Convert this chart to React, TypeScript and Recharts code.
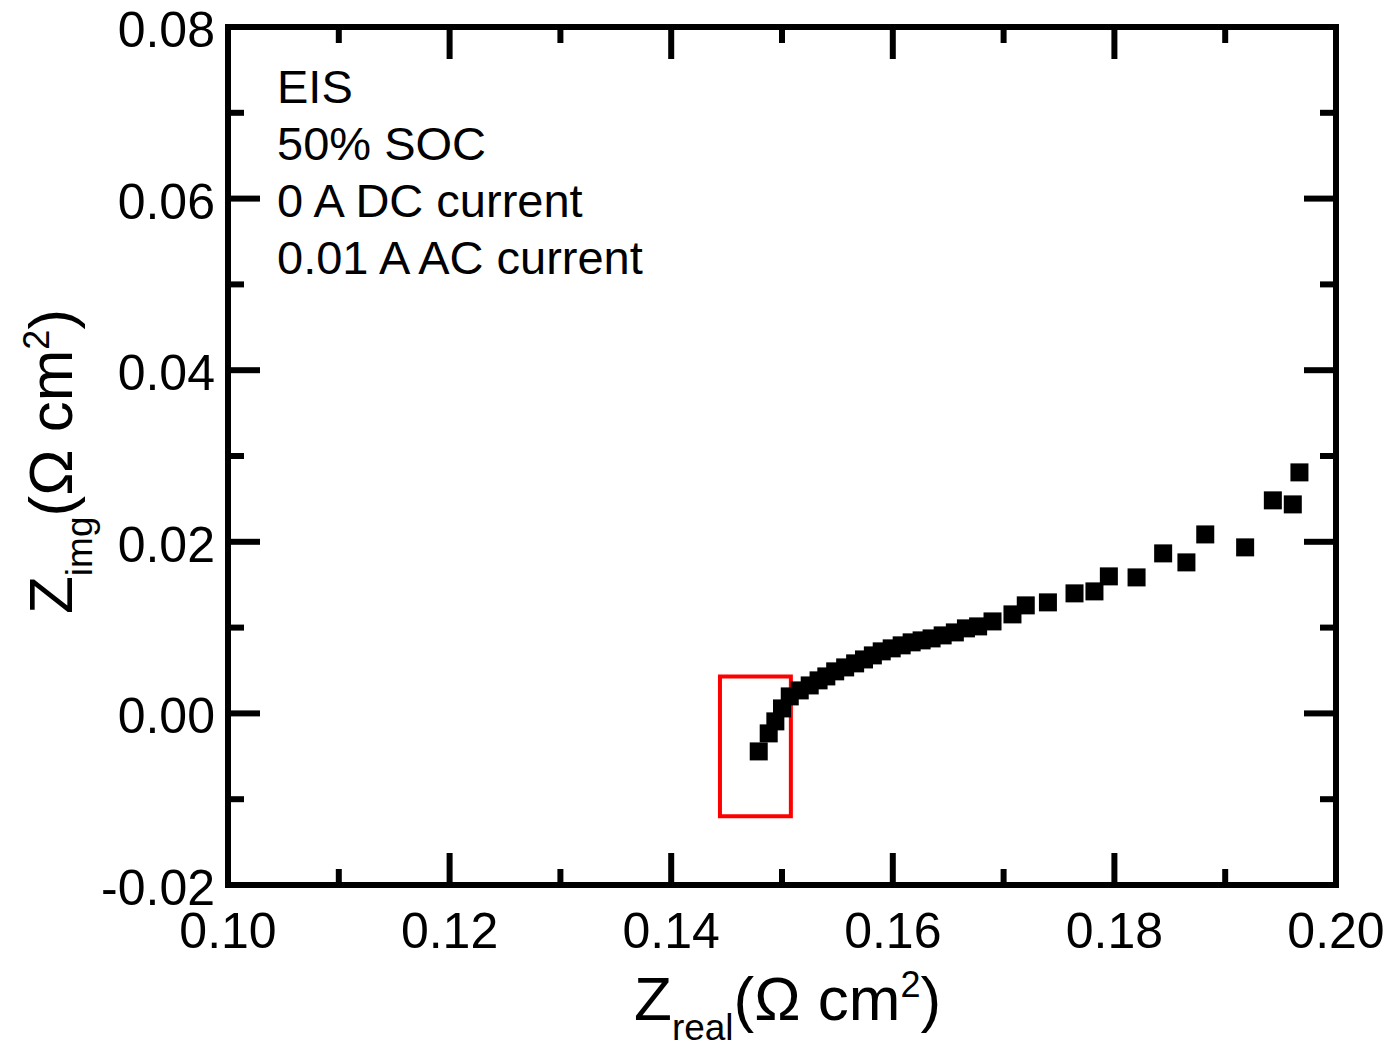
import React from 'react';
import { ScatterChart, Scatter, XAxis, YAxis, ReferenceArea } from 'recharts';

const FONT = '"Liberation Sans", Arial, Helvetica, sans-serif';

// Nyquist data
const zReal = [
    0.1479, 0.1488, 0.1494, 0.15, 0.1507, 0.1516, 0.1525, 0.1533, 0.154, 0.1548,
    0.1557, 0.1566, 0.1574, 0.1582, 0.159, 0.1599, 0.1608, 0.1617, 0.1626, 0.1635,
    0.1645, 0.1656, 0.1666, 0.1677, 0.169, 0.1708, 0.172, 0.174, 0.1764, 0.1782,
    0.1795, 0.182, 0.1844, 0.1865, 0.1882, 0.1918, 0.1943, 0.1961, 0.1967,
];
const zImg = [
    -0.00443, -0.00233, -0.00093, 0.00058, 0.00198, 0.00268, 0.00326, 0.00385, 0.00431, 0.0049,
    0.00536, 0.00583, 0.00629, 0.00676, 0.00723, 0.00758, 0.00793, 0.00828, 0.00851, 0.00874,
    0.00909, 0.00944, 0.00991, 0.01014, 0.01072, 0.01154, 0.01259, 0.01294, 0.01399, 0.01422,
    0.01597, 0.01585, 0.01865, 0.0176, 0.02086, 0.01935, 0.02483, 0.02436, 0.02809,
];

const xTicks = [0.1, 0.11, 0.12, 0.13, 0.14, 0.15, 0.16, 0.17, 0.18, 0.19, 0.2];
const yTicks = [-0.02, -0.01, 0, 0.01, 0.02, 0.03, 0.04, 0.05, 0.06, 0.07, 0.08];

const notes = ['EIS', '50% SOC', '0 A DC current', '0.01 A AC current'];

const W = 1398;
const H = 1049;
const PLOT_W = 1108;
const PLOT_H = 858;
const MAJOR = 32;
const MINOR = 16;

const isMajor = (v: number) => Math.round(v * 100) % 2 === 0;

const XTick = (props: any) => {
    const { x, y, payload } = props;
    const v = payload.value;
    const len = isMajor(v) ? MAJOR : MINOR;
    return (
        <g>
            <line x1={x} y1={y} x2={x} y2={y - len} stroke="#000" strokeWidth={6} />
            <line x1={x} y1={y - PLOT_H} x2={x} y2={y - PLOT_H + len} stroke="#000" strokeWidth={6} />
            {isMajor(v) && (
                <text x={x} y={y + 63} textAnchor="middle" fontSize={50} fontFamily={FONT} fill="#000">
                    {v.toFixed(2)}
                </text>
            )}
        </g>
    );
};

const YTick = (props: any) => {
    const { x, y, payload } = props;
    const v = payload.value;
    const len = isMajor(v) ? MAJOR : MINOR;
    return (
        <g>
            <line x1={x} y1={y} x2={x + len} y2={y} stroke="#000" strokeWidth={6} />
            <line x1={x + PLOT_W} y1={y} x2={x + PLOT_W - len} y2={y} stroke="#000" strokeWidth={6} />
            {isMajor(v) && (
                <text x={x - 13} y={y + 20} textAnchor="end" fontSize={50} fontFamily={FONT} fill="#000">
                    {v.toFixed(2)}
                </text>
            )}
        </g>
    );
};

const XTitle = () => (
    <text x={634} y={1020} textAnchor="start" fontSize={62} fontFamily={FONT} fill="#000">
        Z
        <tspan fontSize={37} dy={20}>real</tspan>
        <tspan dy={-20}>(Ω cm</tspan>
        <tspan fontSize={36} dy={-23}>2</tspan>
        <tspan dy={23}>)</tspan>
    </text>
);

const YTitle = () => (
    <text
        x={72}
        y={614}
        transform="rotate(-90, 72, 614)"
        textAnchor="start"
        fontSize={62}
        fontFamily={FONT}
        fill="#000"
    >
        Z
        <tspan fontSize={37} dy={20}>img</tspan>
        <tspan dy={-20}>(Ω cm</tspan>
        <tspan fontSize={36} dy={-23}>2</tspan>
        <tspan dy={23}>)</tspan>
    </text>
);

const Square = (props: any) => {
    const { cx, cy } = props;
    return <rect x={cx - 9} y={cy - 9} width={18} height={18} fill="#000" />;
};

export default function App() {
    const data = zReal.map((x, i) => ({ x, y: zImg[i] }));

    return (
        <div style={{ position: 'relative', width: W, height: H, margin: -8, background: '#fff' }}>
            <ScatterChart width={W} height={H} margin={{ top: 27, right: 62, bottom: 24, left: 28 }}>
                <XAxis
                    type="number"
                    dataKey="x"
                    domain={[0.1, 0.2]}
                    ticks={xTicks}
                    interval={0}
                    axisLine={false}
                    tickLine={false}
                    tickSize={0}
                    tickMargin={0}
                    height={140}
                    tick={(p: any) => <XTick {...p} />}
                    label={{ content: () => <XTitle /> }}
                    allowDataOverflow
                />
                <YAxis
                    type="number"
                    dataKey="y"
                    domain={[-0.02, 0.08]}
                    ticks={yTicks}
                    interval={0}
                    axisLine={false}
                    tickLine={false}
                    tickSize={0}
                    tickMargin={0}
                    width={200}
                    tick={(p: any) => <YTick {...p} />}
                    label={{ content: () => <YTitle /> }}
                    allowDataOverflow
                />
                <Scatter data={data} shape={(p: any) => <Square {...p} />} isAnimationActive={false} />
                <ReferenceArea
                    x1={0.1444}
                    x2={0.1508}
                    y1={-0.012}
                    y2={0.0043}
                    stroke="#ff0000"
                    strokeWidth={4}
                    fill="none"
                    fillOpacity={0}
                />
                <ReferenceArea
                    x1={0.1}
                    x2={0.2}
                    y1={-0.02}
                    y2={0.08}
                    stroke="#000"
                    strokeWidth={6}
                    fill="none"
                    fillOpacity={0}
                />
            </ScatterChart>
            <div
                style={{
                    position: 'absolute',
                    left: 277,
                    top: 58,
                    fontFamily: FONT,
                    fontSize: 47,
                    lineHeight: '57px',
                    color: '#000',
                    whiteSpace: 'nowrap',
                }}
            >
                {notes.map((n) => (
                    <div key={n}>{n}</div>
                ))}
            </div>
        </div>
    );
}
